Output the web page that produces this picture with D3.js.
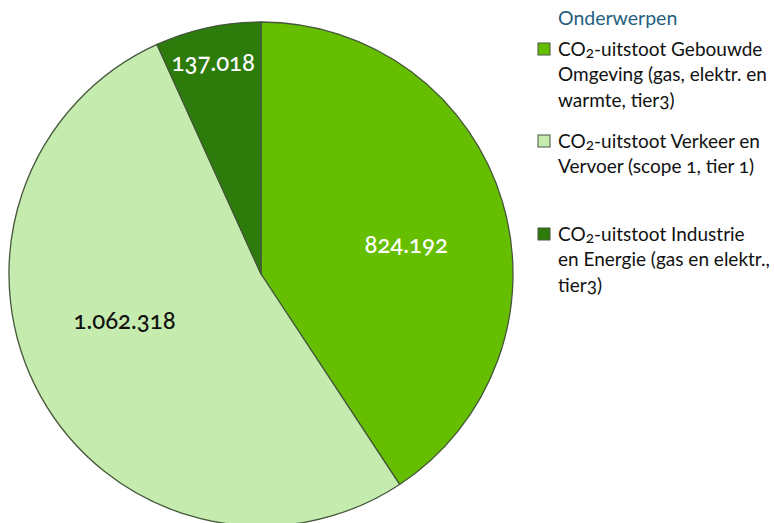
<!DOCTYPE html>
<html><head><meta charset="utf-8">
<script src="https://cdn.jsdelivr.net/npm/d3@7"></script>
<style>
html,body{margin:0;padding:0;background:#fff;overflow:hidden}
svg{display:block;font-family:Lato,"Open Sans",sans-serif;font-variant-numeric:oldstyle-nums;font-feature-settings:"onum" 1}
</style></head>
<body><svg id="c" width="774" height="523"></svg>
<script>
const categories = [
  ["CO", "2", "-uitstoot Gebouwde", "Omgeving (gas, elektr. en", "warmte, tier3)"],
  ["CO", "2", "-uitstoot Verkeer en", "Vervoer (scope 1, tier 1)"],
  ["CO", "2", "-uitstoot Industrie", "en Energie (gas en elektr.,", "tier3)"]
];
const values = [824192, 1062318, 137018];
const valueLabels = ["824.192", "1.062.318", "137.018"];
const colors = ["#65bf00", "#c5ebae", "#2c7b0b"];
const labelColors = ["#ffffff", "#111111", "#ffffff"];
const legendTitle = "Onderwerpen";

const svg = d3.select("#c");
const cx = 261, cy = 274, R = 252;
const labelR = [148, 144, 217];
const labelShift = [5.4, 10.2, -0.5]; // degrees

const pie = d3.pie().sort(null).value(d => d)(values);
const arc = d3.arc().innerRadius(0).outerRadius(R);
const g = svg.append("g").attr("transform", `translate(${cx},${cy})`);
g.selectAll("path").data(pie).join("path")
  .attr("d", arc).attr("fill", (d,i) => colors[i])
  .attr("stroke", "#44573a").attr("stroke-width", 1.3).attr("stroke-linejoin","round");

g.selectAll("text.val").data(pie).join("text").attr("class","val")
  .attr("transform", (d,i) => {
    const a = (d.startAngle + d.endAngle)/2 + labelShift[i]*Math.PI/180;
    return `translate(${labelR[i]*Math.sin(a)},${-labelR[i]*Math.cos(a)})`;
  })
  .attr("text-anchor","middle").attr("dy","0.35em")
  .attr("font-size", 24).attr("font-weight", 500).attr("fill", (d,i) => labelColors[i])
  .text((d,i) => valueLabels[i]);

// legend
const lx = 558;
svg.append("text").attr("x", lx).attr("y", 25).attr("font-size", 19.5)
  .attr("fill", "#1f5f80").text(legendTitle);
const itemY = [56, 148, 241];
const lh = 25.3;
const fs = 19;
categories.forEach((c, i) => {
  svg.append("rect").attr("x", 538).attr("y", itemY[i]-13).attr("width", 12).attr("height", 12)
    .attr("fill", colors[i]).attr("stroke", "#44573a").attr("stroke-width", 1);
  const t = svg.append("text").attr("x", lx).attr("y", itemY[i]).attr("font-size", fs).attr("fill", "#111");
  t.append("tspan").text(c[0]);
  t.append("tspan").attr("font-size", 15.5).attr("dy", 2).text(c[1]);
  t.append("tspan").attr("dy", -2).text(c[2]);
  c.slice(3).forEach((line, j) => {
    svg.append("text").attr("x", lx).attr("y", itemY[i] + lh*(j+1)).attr("font-size", fs)
      .attr("fill", "#111").text(line);
  });
});
</script></body></html>
